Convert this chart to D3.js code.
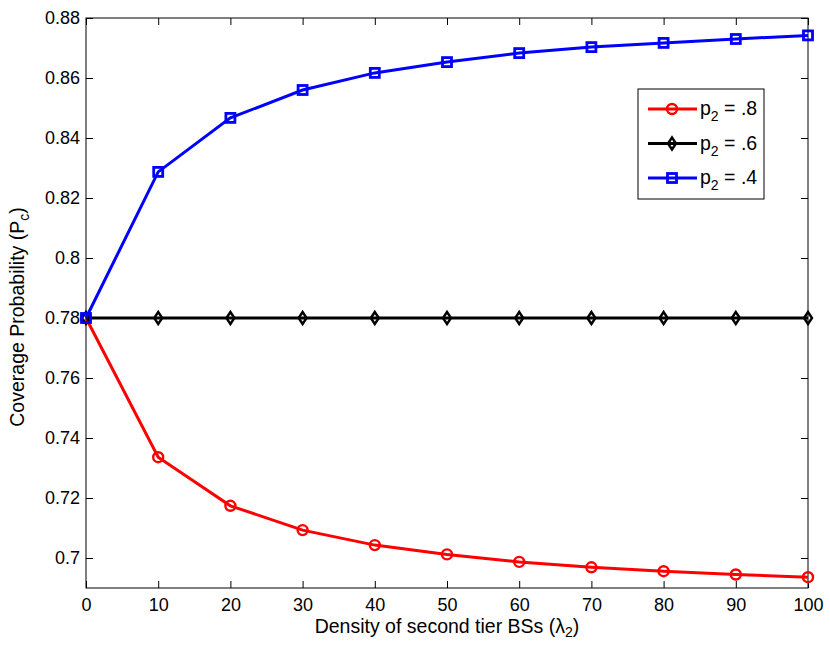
<!DOCTYPE html>
<html>
<head>
<meta charset="utf-8">
<style>
body { margin: 0; background: white; }
text { font-family: "Liberation Sans", Arial, Helvetica, sans-serif; }
</style>
<script src="https://cdn.jsdelivr.net/npm/d3@7"></script>
</head>
<body>
<div id="chart"></div>
<script>
var xValues = [0, 10, 20, 30, 40, 50, 60, 70, 80, 90, 100];
var redValues = [0.7800, 0.7336, 0.7174, 0.7093, 0.7043, 0.7012, 0.6987, 0.6969, 0.6956, 0.6945, 0.6936];
var blackValues = [0.78, 0.78, 0.78, 0.78, 0.78, 0.78, 0.78, 0.78, 0.78, 0.78, 0.78];
var blueValues = [0.7800, 0.8287, 0.8467, 0.8560, 0.8617, 0.8653, 0.8683, 0.8703, 0.8717, 0.8730, 0.8742];
var xTicks = [0, 10, 20, 30, 40, 50, 60, 70, 80, 90, 100];
var yTicks = [0.7, 0.72, 0.74, 0.76, 0.78, 0.8, 0.82, 0.84, 0.86, 0.88];

var series = [
    {label: ".8", color: "#ff0000", marker: "circle", values: redValues},
    {label: ".6", color: "#000000", marker: "diamond", values: blackValues},
    {label: ".4", color: "#0000ff", marker: "square", values: blueValues}
];

var W = 830, H = 649;
var margin = {top: 18, right: 22, bottom: 61, left: 86};
var w = W - margin.left - margin.right;
var h = H - margin.top - margin.bottom;
var FS = "18px", LFS = "19.5px", SUB = "14px";

var svg = d3.select("#chart").append("svg")
    .attr("width", W).attr("height", H);
var g = svg.append("g").attr("transform", "translate(" + margin.left + "," + margin.top + ")");

var x = d3.scaleLinear().domain([0, 100]).range([0, w]);
var y = d3.scaleLinear().domain([0.69, 0.88]).range([h, 0]);

// matlab style ticks inside, on all four sides
var tickLen = 7;
g.append("g").attr("transform", "translate(0," + h + ")")
    .call(d3.axisBottom(x).tickValues(xTicks).tickSizeInner(-tickLen).tickSizeOuter(0).tickPadding(10).tickFormat(d3.format("d")));
g.append("g")
    .call(d3.axisTop(x).tickValues(xTicks).tickSizeInner(-tickLen).tickSizeOuter(0).tickFormat(""));
g.append("g")
    .call(d3.axisLeft(y).tickValues(yTicks).tickSizeInner(-tickLen).tickSizeOuter(0).tickPadding(6).tickFormat(function(d) { return String(+d.toFixed(2)); }));
g.append("g").attr("transform", "translate(" + w + ",0)")
    .call(d3.axisRight(y).tickValues(yTicks).tickSizeInner(-tickLen).tickSizeOuter(0).tickFormat(""));

g.selectAll(".domain").remove();
g.selectAll(".tick line").attr("stroke", "#000").attr("stroke-width", 1);
g.selectAll(".tick text").attr("font-size", FS).attr("fill", "#000");

g.append("rect").attr("width", w).attr("height", h)
    .attr("fill", "none").attr("stroke", "#000").attr("stroke-width", 1);

var line = d3.line()
    .x(function(d, i) { return x(xValues[i]); })
    .y(function(d) { return y(d); });

function drawMarker(sel, type, color) {
    if (type == "circle") {
        sel.append("circle").attr("r", 5)
            .attr("fill", "none").attr("stroke", color).attr("stroke-width", 2.4);
    } else if (type == "diamond") {
        sel.append("path").attr("d", "M0,-6L4,0L0,6L-4,0Z")
            .attr("fill", "none").attr("stroke", color).attr("stroke-width", 2.4);
    } else {
        sel.append("rect").attr("x", -4.5).attr("y", -4.5).attr("width", 9).attr("height", 9)
            .attr("fill", "none").attr("stroke", color).attr("stroke-width", 2.8);
    }
}

series.forEach(function(s) {
    g.append("path").datum(s.values)
        .attr("fill", "none").attr("stroke", s.color).attr("stroke-width", 3)
        .attr("d", line);
    g.selectAll(null).data(s.values).enter().append("g")
        .attr("transform", function(d, i) { return "translate(" + x(xValues[i]) + "," + y(d) + ")"; })
        .each(function() { drawMarker(d3.select(this), s.marker, s.color); });
});

// legend
var lg = svg.append("g").attr("transform", "translate(638,89)");
lg.append("rect").attr("width", 126).attr("height", 110)
    .attr("fill", "white").attr("stroke", "#000").attr("stroke-width", 1);
series.forEach(function(s, i) {
    var row = lg.append("g").attr("transform", "translate(0," + (20 + i * 34.5) + ")");
    row.append("line").attr("x1", 10).attr("x2", 59).attr("y1", 0).attr("y2", 0)
        .attr("stroke", s.color).attr("stroke-width", 3);
    var m = row.append("g").attr("transform", "translate(34,0)");
    drawMarker(m, s.marker, s.color);
    var t = row.append("text").attr("x", 62).attr("y", 6).attr("font-size", LFS);
    t.append("tspan").text("p");
    t.append("tspan").attr("font-size", SUB).attr("dy", 6).text("2");
    t.append("tspan").attr("dy", -6).text(" = " + s.label);
});

// axis labels
var xl = svg.append("text").attr("x", margin.left + w / 2).attr("y", 633)
    .attr("text-anchor", "middle").attr("font-size", LFS);
xl.append("tspan").text("Density of second tier BSs (λ");
xl.append("tspan").attr("font-size", SUB).attr("dy", 4).text("2");
xl.append("tspan").attr("dy", -4).text(")");

var yl = svg.append("text")
    .attr("transform", "translate(24,317) rotate(-90)")
    .attr("text-anchor", "middle").attr("font-size", LFS);
yl.append("tspan").text("Coverage Probability (P");
yl.append("tspan").attr("font-size", SUB).attr("dy", 5).text("c");
yl.append("tspan").attr("dy", -5).text(")");
</script>
</body>
</html>
